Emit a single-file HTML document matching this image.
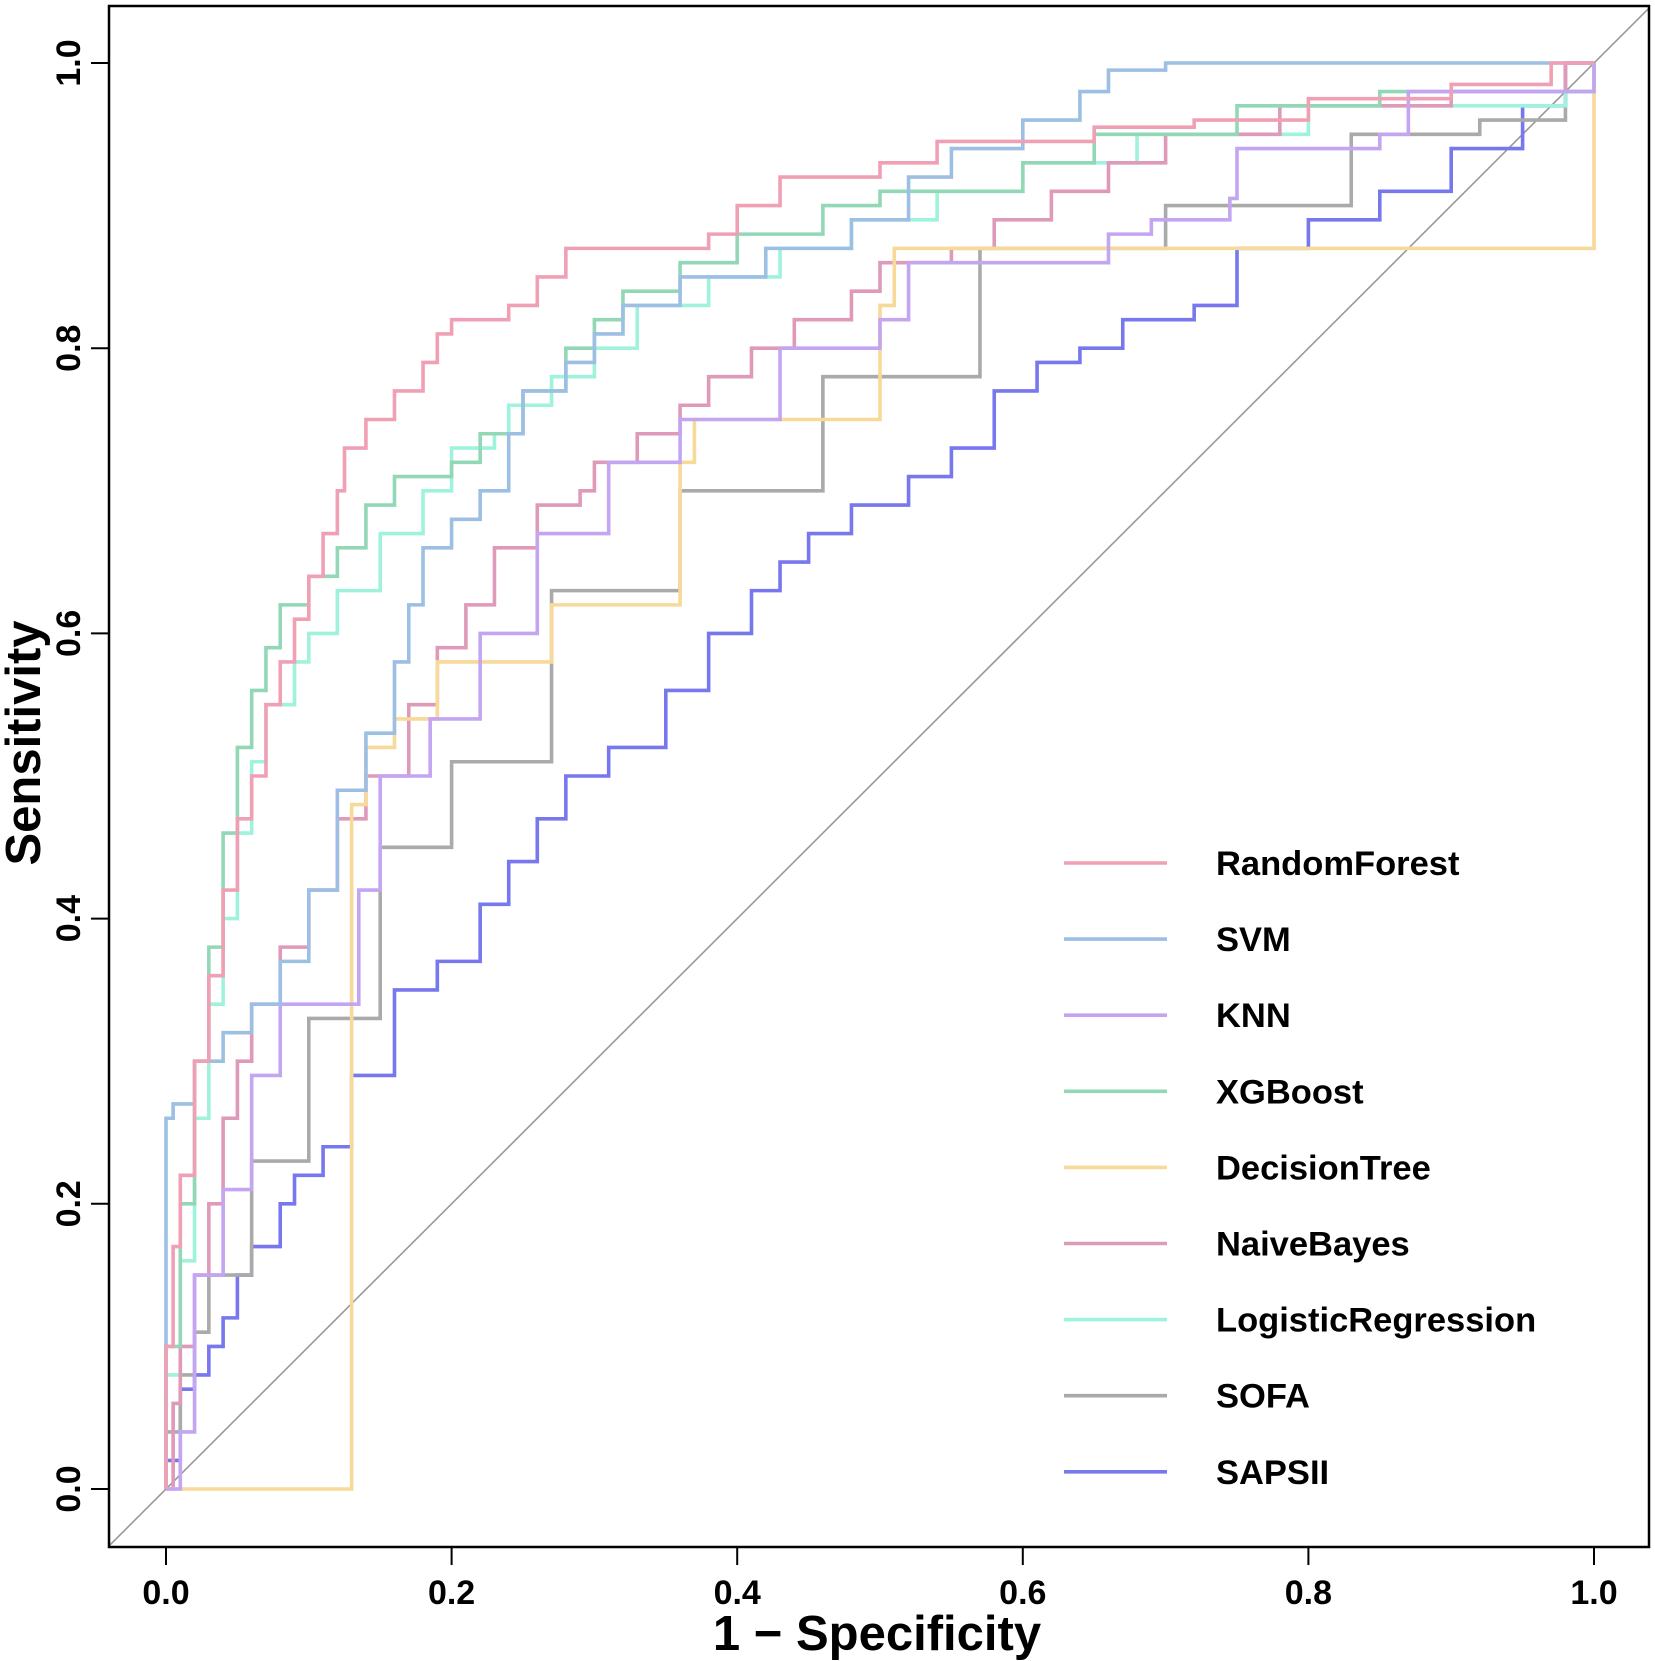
<!DOCTYPE html>
<html><head><meta charset="utf-8">
<style>
html,body{margin:0;padding:0;background:#fff;}
svg{display:block;font-family:"Liberation Sans",Arial,sans-serif;}
</style></head>
<body>
<svg id="chart" width="1655" height="1661" viewBox="0 0 1655 1661" xmlns="http://www.w3.org/2000/svg">
<defs><clipPath id="plotclip"><rect x="109" y="6" width="1540" height="1541"/></clipPath></defs>
<rect x="0" y="0" width="1655" height="1661" fill="#fff"/>
<g id="diag" clip-path="url(#plotclip)"></g>
<g id="series" clip-path="url(#plotclip)"></g>
<rect x="109" y="6" width="1540" height="1541" fill="none" stroke="#000" stroke-width="2.5"/>
<g id="axes"></g>
<g id="legend"></g>
<text x="877" y="1650" text-anchor="middle" font-size="49" font-weight="bold">1 − Specificity</text>
<text transform="translate(40,743) rotate(-90)" text-anchor="middle" font-size="49" font-weight="bold">Sensitivity</text>
</svg>
<script>
const seriesNames = ["RandomForest","SVM","KNN","XGBoost","DecisionTree","NaiveBayes","LogisticRegression","SOFA","SAPSII"];
const seriesColors = ["#F0A0B4","#9CBFE3","#C3A5F2","#93D8B6","#F7D999","#DE9AB8","#9FF2DC","#AAAAAA","#7777EE"];
const xTicks = [0,0.2,0.4,0.6,0.8,1.0];
const xTickLabels = ["0.0","0.2","0.4","0.6","0.8","1.0"];
const yTicks = [0,0.2,0.4,0.6,0.8,1.0];
const yTickLabels = ["0.0","0.2","0.4","0.6","0.8","1.0"];

const rfX = [0,0,0.005,0.01,0.02,0.03,0.04,0.05,0.06,0.07,0.08,0.09,0.1,0.11,0.12,0.125,0.14,0.16,0.18,0.19,0.2,0.24,0.26,0.28,0.35,0.38,0.4,0.43,0.5,0.54,0.6,0.65,0.72,0.8,0.9,0.97,1];
const rfY = [0,0.1,0.17,0.22,0.3,0.36,0.42,0.47,0.5,0.55,0.58,0.61,0.64,0.67,0.7,0.73,0.75,0.77,0.79,0.81,0.82,0.83,0.85,0.87,0.87,0.88,0.9,0.92,0.93,0.945,0.945,0.955,0.96,0.975,0.985,1,1];
const svmX = [0,0,0.005,0.02,0.04,0.06,0.08,0.1,0.12,0.14,0.16,0.17,0.18,0.2,0.22,0.24,0.25,0.28,0.3,0.32,0.36,0.42,0.48,0.52,0.55,0.6,0.64,0.66,0.7,1];
const svmY = [0,0.26,0.27,0.3,0.32,0.34,0.37,0.42,0.49,0.53,0.58,0.62,0.66,0.68,0.7,0.74,0.77,0.79,0.81,0.83,0.85,0.87,0.89,0.92,0.94,0.96,0.98,0.995,1,1];
const knnX = [0,0.01,0.02,0.02,0.04,0.04,0.06,0.06,0.08,0.08,0.135,0.135,0.15,0.15,0.185,0.185,0.22,0.22,0.26,0.26,0.31,0.31,0.36,0.36,0.42,0.43,0.5,0.52,0.6,0.66,0.69,0.745,0.75,0.85,0.87,1];
const knnY = [0,0.04,0.08,0.15,0.15,0.21,0.21,0.29,0.29,0.34,0.34,0.42,0.42,0.5,0.5,0.54,0.54,0.6,0.6,0.67,0.67,0.72,0.72,0.75,0.75,0.8,0.82,0.86,0.86,0.88,0.89,0.905,0.94,0.95,0.98,1];
const xgbX = [0,0,0.01,0.02,0.03,0.04,0.05,0.06,0.07,0.08,0.1,0.12,0.14,0.16,0.2,0.22,0.25,0.28,0.3,0.32,0.36,0.4,0.46,0.5,0.6,0.65,0.75,0.85,1];
const xgbY = [0,0.1,0.2,0.3,0.38,0.46,0.52,0.56,0.59,0.62,0.64,0.66,0.69,0.71,0.72,0.74,0.77,0.8,0.82,0.84,0.86,0.88,0.9,0.91,0.93,0.95,0.97,0.98,1];
const dtX = [0,0.13,0.13,0.14,0.16,0.16,0.19,0.19,0.26,0.27,0.36,0.36,0.37,0.5,0.5,0.51,1,1];
const dtY = [0,0,0.48,0.52,0.52,0.54,0.54,0.58,0.58,0.62,0.62,0.72,0.75,0.75,0.83,0.87,0.87,1];
const nbX = [0,0.005,0.01,0.02,0.03,0.04,0.05,0.06,0.08,0.1,0.12,0.14,0.17,0.19,0.21,0.23,0.26,0.29,0.3,0.33,0.36,0.38,0.41,0.44,0.48,0.5,0.55,0.58,0.62,0.66,0.7,0.78,0.9,0.98,1];
const nbY = [0,0.06,0.1,0.15,0.2,0.26,0.3,0.34,0.38,0.42,0.47,0.5,0.55,0.59,0.62,0.66,0.69,0.7,0.72,0.74,0.76,0.78,0.8,0.82,0.84,0.86,0.87,0.89,0.91,0.93,0.95,0.97,0.98,1,1];
const lrX = [0,0,0.01,0.02,0.03,0.04,0.05,0.06,0.07,0.09,0.1,0.12,0.15,0.18,0.2,0.23,0.24,0.27,0.3,0.33,0.38,0.43,0.48,0.54,0.6,0.68,0.8,0.98,1];
const lrY = [0,0.08,0.16,0.26,0.34,0.4,0.46,0.51,0.55,0.58,0.6,0.63,0.67,0.7,0.73,0.74,0.76,0.78,0.8,0.83,0.85,0.87,0.89,0.91,0.93,0.95,0.97,0.98,1];
const sofaX = [0,0,0.01,0.01,0.02,0.02,0.03,0.03,0.06,0.06,0.1,0.1,0.15,0.15,0.2,0.2,0.27,0.27,0.36,0.36,0.46,0.46,0.57,0.57,0.7,0.7,0.83,0.83,0.92,0.98,1];
const sofaY = [0,0.04,0.07,0.08,0.08,0.11,0.11,0.15,0.15,0.23,0.23,0.33,0.33,0.45,0.45,0.51,0.51,0.63,0.63,0.7,0.7,0.78,0.78,0.87,0.87,0.9,0.9,0.95,0.96,0.98,1];
const sapsX = [0,0,0.01,0.01,0.02,0.03,0.04,0.05,0.06,0.08,0.09,0.11,0.13,0.16,0.19,0.22,0.24,0.26,0.28,0.31,0.35,0.38,0.41,0.43,0.45,0.48,0.52,0.55,0.58,0.61,0.64,0.67,0.72,0.75,0.8,0.85,0.9,0.95,0.98,1];
const sapsY = [0,0.02,0.04,0.07,0.08,0.1,0.12,0.15,0.17,0.2,0.22,0.24,0.29,0.35,0.37,0.41,0.44,0.47,0.5,0.52,0.56,0.6,0.63,0.65,0.67,0.69,0.71,0.73,0.77,0.79,0.8,0.82,0.83,0.87,0.89,0.91,0.94,0.97,1,1];

const allX = [rfX,svmX,knnX,xgbX,dtX,nbX,lrX,sofaX,sapsX];
const allY = [rfY,svmY,knnY,xgbY,dtY,nbY,lrY,sofaY,sapsY];

const NS = "http://www.w3.org/2000/svg";
function sx(v){ return 166 + v*1428; }
function sy(v){ return 1489 - v*1426; }

const diagG = document.getElementById('diag');
const dl = document.createElementNS(NS,'line');
dl.setAttribute('x1',sx(-0.05)); dl.setAttribute('y1',sy(-0.05));
dl.setAttribute('x2',sx(1.05)); dl.setAttribute('y2',sy(1.05));
dl.setAttribute('stroke','#999'); dl.setAttribute('stroke-width','1.6');


diagG.appendChild(dl);

const sg = document.getElementById('series');
for (let i = allX.length-1; i >= 0; i--) {
  const xs = allX[i], ys = allY[i];
  let d = 'M' + sx(xs[0]) + ' ' + sy(ys[0]);
  for (let k = 1; k < xs.length; k++) {
    d += ' L' + sx(xs[k]) + ' ' + sy(ys[k-1]) + ' L' + sx(xs[k]) + ' ' + sy(ys[k]);
  }
  const p = document.createElementNS(NS,'path');
  p.setAttribute('d', d);
  p.setAttribute('fill','none');
  p.setAttribute('stroke', seriesColors[i]);
  p.setAttribute('stroke-width','3.6');
  
  
  sg.appendChild(p);
}

const ag = document.getElementById('axes');
xTicks.forEach((t, i) => {
  const l = document.createElementNS(NS,'line');
  l.setAttribute('x1',sx(t)); l.setAttribute('x2',sx(t));
  l.setAttribute('y1',1547); l.setAttribute('y2',1565);
  l.setAttribute('stroke','#000'); l.setAttribute('stroke-width','2');
  
  
  ag.appendChild(l);
  const tx = document.createElementNS(NS,'text');
  tx.setAttribute('x',sx(t)); tx.setAttribute('y',1604);
  tx.setAttribute('text-anchor','middle'); tx.setAttribute('font-size','34'); tx.setAttribute('font-weight','bold');
  tx.textContent = xTickLabels[i];
  
  
  ag.appendChild(tx);
});
yTicks.forEach((t, i) => {
  const l = document.createElementNS(NS,'line');
  l.setAttribute('x1',91); l.setAttribute('x2',109);
  l.setAttribute('y1',sy(t)); l.setAttribute('y2',sy(t));
  l.setAttribute('stroke','#000'); l.setAttribute('stroke-width','2');
  
  
  ag.appendChild(l);
  const tx = document.createElementNS(NS,'text');
  tx.setAttribute('transform','translate(80,' + sy(t) + ') rotate(-90)');
  tx.setAttribute('text-anchor','middle'); tx.setAttribute('font-size','34'); tx.setAttribute('font-weight','bold');
  tx.textContent = yTickLabels[i];
  
  
  ag.appendChild(tx);
});

const lg = document.getElementById('legend');
seriesNames.forEach((n, i) => {
  const y = 863 + i*76.1;
  const l = document.createElementNS(NS,'line');
  l.setAttribute('x1',1064); l.setAttribute('x2',1167);
  l.setAttribute('y1',y); l.setAttribute('y2',y);
  l.setAttribute('stroke',seriesColors[i]); l.setAttribute('stroke-width','3.6');
  
  
  lg.appendChild(l);
  const tx = document.createElementNS(NS,'text');
  tx.setAttribute('x',1216); tx.setAttribute('y',y+12);
  tx.setAttribute('font-size','34.5'); tx.setAttribute('font-weight','bold');
  tx.textContent = n;
  
  
  lg.appendChild(tx);
});
</script>
</body></html>
